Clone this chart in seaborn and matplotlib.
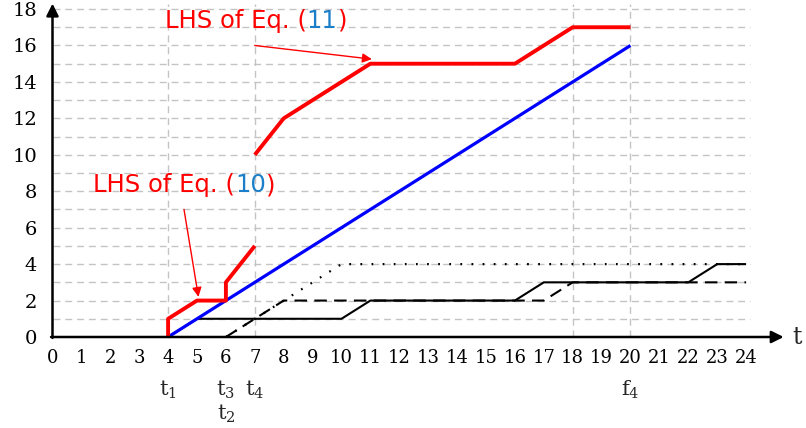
import matplotlib
matplotlib.use("Agg")
import matplotlib.pyplot as plt
import seaborn as sns
import numpy as np

# ---- data ----
red1_x = [4, 4, 5, 6, 6, 7]
red1_y = [0, 1, 2, 2, 3, 5]
red2_x = [7, 8, 11, 16, 18, 20]
red2_y = [10, 12, 15, 15, 17, 17]
blue_x = [4, 20]
blue_y = [0, 16]
solid_x = [4, 5, 10, 11, 16, 17, 22, 23, 24]
solid_y = [0, 1, 1, 2, 2, 3, 3, 4, 4]
dashed_x = [6, 8, 17, 18, 24]
dashed_y = [0, 2, 2, 3, 3]
dotted_x = [6, 10, 24]
dotted_y = [0, 4, 4]
xticks = list(range(0, 25))
yticks = list(range(0, 19, 2))
vgrid = [4, 7, 18, 20]
special_labels = [(4, r"$\mathregular{t_1}$", 0), (6, r"$\mathregular{t_3}$", 0),
                  (6, r"$\mathregular{t_2}$", 1), (7, r"$\mathregular{t_4}$", 0),
                  (20, r"$\mathregular{f_4}$", 0)]

sns.set_theme(style="white")
plt.rcParams['font.family'] = ['DejaVu Serif']
plt.rcParams['mathtext.fontset'] = 'dejavuserif'

fig = plt.figure(figsize=(8.06, 4.28), dpi=100)
W, H = 806, 428
x0px, y0px = 52.5, 337
ux, uy = 28.9, 18.22
xmax, ymax = 25.3, 18.3
ax = fig.add_axes([x0px / W, (H - y0px) / H, xmax * ux / W, ymax * uy / H])
ax.set_xlim(0, xmax)
ax.set_ylim(0, ymax)
for s in ax.spines.values():
    s.set_visible(False)

gcol = "#c4c4c4"
for yv in range(1, 19):
    ax.plot([0, 24.13], [yv, yv], color=gcol, lw=1, ls=(0, (5, 3.5)), zorder=1)
for xv in vgrid:
    ax.plot([xv, xv], [0, 18.3], color=gcol, lw=1, ls=(0, (5, 3.5)), zorder=1)

kw = dict(sort=False, estimator=None, ax=ax, legend=False)
sns.lineplot(x=solid_x, y=solid_y, color="black", lw=1.5, zorder=3, **kw)
sns.lineplot(x=dashed_x, y=dashed_y, color="black", lw=1.5, dashes=False, zorder=3, **kw)
ax.lines[-1].set_linestyle((0, (6, 3.5)))
sns.lineplot(x=dotted_x, y=dotted_y, color="black", lw=1.6, zorder=3, **kw)
ax.lines[-1].set_linestyle((0, (0.8, 4.2)))
sns.lineplot(x=blue_x, y=blue_y, color="#0000ff", lw=2.3, zorder=4, **kw)
sns.lineplot(x=red1_x, y=red1_y, color="#ff0000", lw=2.8, zorder=5, **kw)
sns.lineplot(x=red2_x, y=red2_y, color="#ff0000", lw=2.8, zorder=5, **kw)
for ln in ax.lines:
    ln.set_clip_on(False)
    ln.set_solid_capstyle("butt")

# axes arrows
ax.annotate("", xy=(xmax, 0), xytext=(-0.05, 0),
            arrowprops=dict(arrowstyle="-|>", lw=1.8, color="black", mutation_scale=18, shrinkA=0, shrinkB=0),
            annotation_clip=False, zorder=6)
ax.annotate("", xy=(0, ymax), xytext=(0, -0.05),
            arrowprops=dict(arrowstyle="-|>", lw=1.8, color="black", mutation_scale=18, shrinkA=0, shrinkB=0),
            annotation_clip=False, zorder=6)
ax.text(xmax + 0.3, 0, "t", fontsize=17, va="center", ha="left", family="DejaVu Serif")

ax.set_xticks(xticks)
ax.set_yticks(yticks)
ax.set_xticklabels([str(v) for v in xticks])
ax.set_yticklabels([str(v) for v in yticks])
ax.tick_params(axis="x", direction="inout", length=5, width=1.3, labelsize=13, pad=6, colors="black")
ax.tick_params(axis="y", direction="inout", length=6, width=1.3, labelsize=14, pad=8, colors="black")

for xv, lab, row in special_labels:
    ax.text(xv, -2.9 - row * 1.3, lab, fontsize=15, ha="center", va="center")

# annotations with mixed colour
def mixed(xd, yd, parts):
    fig.canvas.draw()
    r = fig.canvas.get_renderer()
    xpos = xd
    for txt, col in parts:
        t = ax.text(xpos, yd, txt, color=col, fontsize=17.5, family="DejaVu Sans",
                    ha="left", va="center", zorder=7)
        bb = t.get_window_extent(renderer=r)
        xpos = ax.transData.inverted().transform((bb.x1, 0))[0]

mixed(3.89, 17.35, [("LHS of Eq. (", "#ff0000"), ("11", "#1a7fc8"), (")", "#ff0000")])
mixed(1.40, 8.34, [("LHS of Eq. (", "#ff0000"), ("10", "#1a7fc8"), (")", "#ff0000")])

ax.annotate("", xy=(11.05, 15.25), xytext=(7.0, 16.0),
            arrowprops=dict(arrowstyle="-|>", lw=1.0, color="#ff0000", mutation_scale=14, shrinkA=0, shrinkB=0))
ax.annotate("", xy=(5.05, 2.2), xytext=(4.55, 7.0),
            arrowprops=dict(arrowstyle="-|>", lw=1.0, color="#ff0000", mutation_scale=14, shrinkA=0, shrinkB=0))

fig.savefig("out.png", dpi=100)
